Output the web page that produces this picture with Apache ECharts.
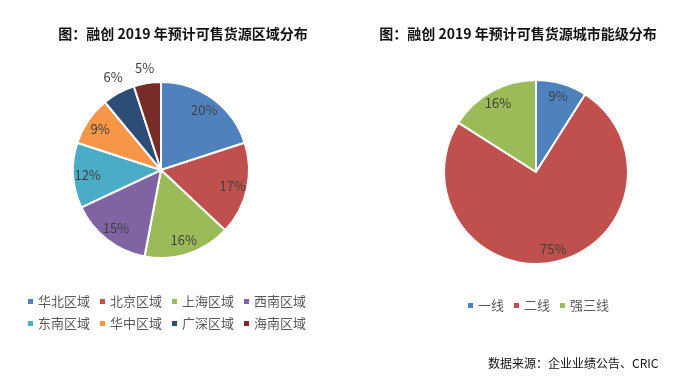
<!DOCTYPE html>
<html>
<head>
<meta charset="utf-8">
<script src="https://cdn.jsdelivr.net/npm/echarts@6/dist/echarts.min.js"></script>
<style>
  html, body { margin: 0; padding: 0; background: #fff; }
  #main { width: 688px; height: 378px; }
</style>
</head>
<body>
<div id="main"></div>
<script>
// 区域分布
var regionNames = ['华北区域', '北京区域', '上海区域', '西南区域', '东南区域', '华中区域', '广深区域', '海南区域'];
var regionValues = [20, 17, 16, 15, 12, 9, 6, 5];
// 城市能级分布
var tierNames = ['一线', '二线', '强三线'];
var tierValues = [9, 75, 16];

var palette = ['#4F81BD', '#C0504D', '#9BBB59', '#8064A2', '#4BACC6', '#F79646', '#2C4D75', '#772C2A'];
var font = '"Noto Sans CJK SC", "Noto Sans", sans-serif';

function toData(names, values) {
  return names.map(function (n, i) { return { name: n, value: values[i] }; });
}

// small slices get their label outside
function toLabelData(names, values, outsideNames, offsets) {
  return names.map(function (n, i) {
    var item = { name: n, value: values[i] };
    var k = outsideNames.indexOf(n);
    if (k >= 0) {
      item.label = { position: 'outside', offset: offsets[k] };
      item.labelLine = { show: false, length: 6, length2: 0 };
    }
    return item;
  });
}

var myChart = echarts.init(document.getElementById('main'));

var basePie = {
  type: 'pie',
  startAngle: 90,
  clockwise: true,
  label: { show: false },
  labelLine: { show: false },
  itemStyle: { borderColor: '#fff', borderWidth: 2 },
  emphasis: { scale: false }
};

var labelRing = {
  type: 'pie',
  startAngle: 90,
  clockwise: true,
  silent: true,
  avoidLabelOverlap: false,
  legendHoverLink: false,
  itemStyle: { color: 'rgba(0,0,0,0)', borderWidth: 0 },
  label: {
    show: true,
    position: 'inside',
    formatter: '{c}%',
    color: '#404040',
    fontSize: 13,
    fontFamily: font
  },
  labelLine: { show: false },
  emphasis: { disabled: true }
};

var legendText = { fontSize: 13, color: '#595959', fontFamily: font, padding: [0, 0, 0, -1] };

myChart.setOption({
  color: palette,
  animation: false,
  title: [
    {
      text: '图：融创 2019 年预计可售货源区域分布',
      left: 178, top: 22, textAlign: 'center',
      textStyle: { fontSize: 14, fontWeight: 'bold', color: '#111', fontFamily: font }
    },
    {
      text: '图：融创 2019 年预计可售货源城市能级分布',
      left: 513, top: 22, textAlign: 'center',
      textStyle: { fontSize: 14, fontWeight: 'bold', color: '#111', fontFamily: font }
    },
    {
      text: '数据来源：企业业绩公告、CRIC',
      left: 483, top: 352,
      textStyle: { fontSize: 12, fontWeight: 'normal', color: '#111', fontFamily: font }
    }
  ],
  legend: [
    {
      data: regionNames.slice(0, 4),
      left: 21, top: 290,
      itemWidth: 7, itemHeight: 7, itemGap: 8,
      icon: 'rect',
      textStyle: legendText
    },
    {
      data: regionNames.slice(4),
      left: 21, top: 312,
      itemWidth: 7, itemHeight: 7, itemGap: 8,
      icon: 'rect',
      textStyle: legendText
    },
    {
      data: tierNames,
      left: 461, top: 294,
      itemWidth: 7, itemHeight: 7, itemGap: 8,
      icon: 'rect',
      textStyle: legendText
    }
  ],
  series: [
    Object.assign({}, basePie, {
      name: '区域',
      center: [161, 170],
      radius: 88,
      data: toData(regionNames, regionValues)
    }),
    Object.assign({}, labelRing, {
      name: '区域标签',
      center: [161, 170],
      radius: [53, 88],
      data: toLabelData(regionNames, regionValues, ['广深区域', '海南区域'], [[12, -11], [13, -9]])
    }),
    Object.assign({}, basePie, {
      name: '能级',
      center: [536, 172],
      radius: 92,
      color: ['#4F81BD', '#C0504D', '#9BBB59'],
      data: toData(tierNames, tierValues)
    }),
    Object.assign({}, labelRing, {
      name: '能级标签',
      center: [536, 172],
      radius: [60, 92],
      data: toData(tierNames, tierValues)
    })
  ]
});
</script>
</body>
</html>
